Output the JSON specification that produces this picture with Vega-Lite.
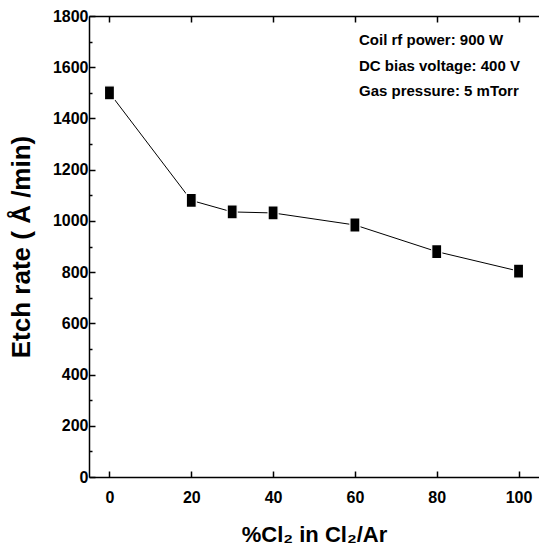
{
  "$schema": "https://vega.github.io/schema/vega-lite/v6.json",
  "width": 450,
  "height": 461,
  "autosize": "none",
  "padding": {"left": 89, "top": 16, "right": 0, "bottom": 80},
  "background": "white",
  "config": {"view": {"stroke": null}, "font": "Liberation Sans"},
  "data": {
    "values": [
      {"cl2": 0, "rate": 1500},
      {"cl2": 20, "rate": 1080},
      {"cl2": 30, "rate": 1035},
      {"cl2": 40, "rate": 1031},
      {"cl2": 60, "rate": 984},
      {"cl2": 80, "rate": 880},
      {"cl2": 100, "rate": 804}
    ]
  },
  "layer": [
    {
      "mark": {"type": "line", "color": "black", "strokeWidth": 1},
      "encoding": {
        "x": {
          "field": "cl2", "type": "quantitative",
          "scale": {"domain": [-5, 105], "nice": false, "zero": false},
          "axis": {
            "orient": "bottom",
            "values": [0, 20, 40, 60, 80, 100],
            "format": "d",
            "grid": false,
            "tickSize": -6, "tickWidth": 1.5, "tickColor": "black",
            "domainColor": "black", "domainWidth": 1.5,
            "labelFont": "Liberation Sans", "labelFontSize": 16, "labelFontWeight": "bold", "labelColor": "black",
            "labelPadding": 18,
            "title": "%Cl₂ in Cl₂/Ar",
            "titleFont": "Liberation Sans", "titleFontSize": 22, "titleFontWeight": "bold", "titleColor": "black",
            "titlePadding": 19
          }
        },
        "y": {
          "field": "rate", "type": "quantitative",
          "scale": {"domain": [0, 1800], "nice": false},
          "axis": {
            "orient": "left",
            "values": [0, 100, 200, 300, 400, 500, 600, 700, 800, 900, 1000, 1100, 1200, 1300, 1400, 1500, 1600, 1700, 1800],
            "format": "d",
            "labelExpr": "datum.value % 200 == 0 ? datum.label : ''",
            "grid": false,
            "tickSize": {"condition": {"test": "datum.value % 200 != 0", "value": -3}, "value": -6},
            "tickWidth": 1.5, "tickColor": "black",
            "domainColor": "black", "domainWidth": 1.5,
            "labelFont": "Liberation Sans", "labelFontSize": 16, "labelFontWeight": "bold", "labelColor": "black",
            "labelPadding": 7,
            "title": "Etch rate ( Å /min)",
            "titleFont": "Liberation Sans", "titleFontSize": 26, "titleFontWeight": "bold", "titleColor": "black",
            "titlePadding": 18
          }
        }
      }
    },
    {
      "mark": {"type": "point", "shape": "M-0.714,-1H0.714V1H-0.714Z", "size": 196, "filled": true, "fill": "black", "stroke": "white", "strokeWidth": 1.2, "opacity": 1},
      "encoding": {
        "x": {
          "field": "cl2", "type": "quantitative",
          "axis": {
            "orient": "top",
            "values": [0, 20, 40, 60, 80, 100],
            "labels": false, "grid": false, "title": null,
            "tickSize": -6, "tickWidth": 1.5, "tickColor": "black",
            "domainColor": "black", "domainWidth": 1.5
          }
        },
        "y": {"field": "rate", "type": "quantitative", "axis": null}
      }
    },
    {
      "data": {"values": [{"note": ["Coil rf power: 900 W", "DC bias voltage: 400 V", "Gas pressure: 5 mTorr"]}]},
      "mark": {"type": "text", "align": "left", "baseline": "alphabetic", "font": "Liberation Sans", "fontSize": 15, "fontWeight": "bold", "lineHeight": 25.5, "color": "black"},
      "encoding": {
        "x": {"datum": 61, "type": "quantitative", "axis": null},
        "y": {"datum": 1685, "type": "quantitative", "axis": null},
        "text": {"field": "note"}
      }
    }
  ],
  "resolve": {"axis": {"x": "independent", "y": "independent"}}
}
